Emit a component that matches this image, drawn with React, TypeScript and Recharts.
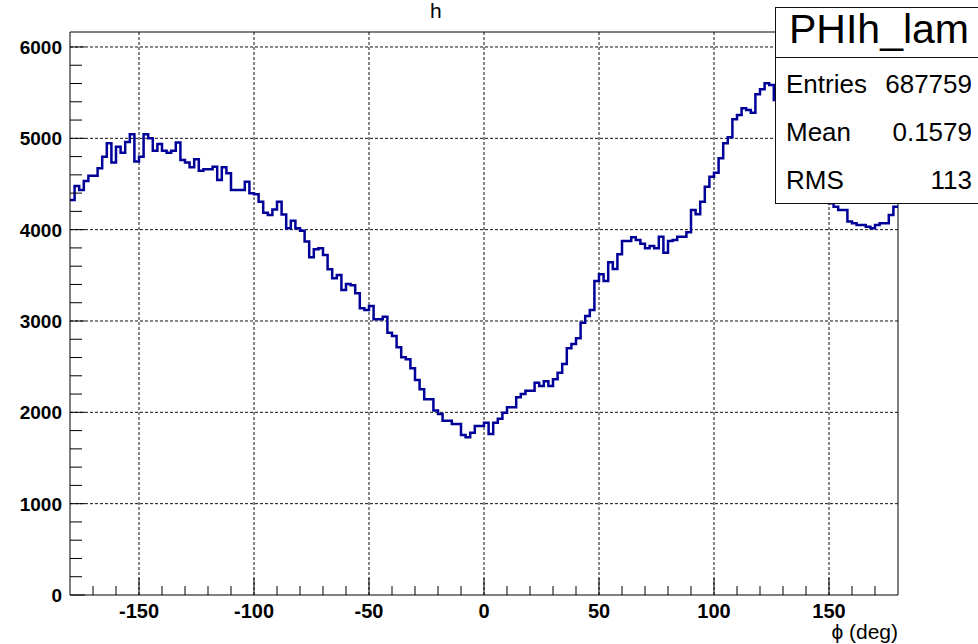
import { LineChart, Line, XAxis, YAxis, ReferenceLine } from "recharts"

// PHIh_lam: 180 bins of 2 deg from -180 to 180
const PHI_MIN = -180
const PHI_MAX = 180
const BIN_WIDTH = 2
const Y_TOP = 6164

const counts = [
  4325, 4478, 4434, 4533, 4591, 4591, 4672, 4799, 4946, 4734,
  4909, 4843, 4960, 5044, 4745, 4799, 5044, 5000, 4865, 4938,
  4865, 4843, 4865, 4953, 4763, 4734, 4683, 4770, 4646, 4661,
  4661, 4690, 4544, 4683, 4617, 4434, 4434, 4434, 4525, 4398,
  4387, 4306, 4186, 4160, 4222, 4306, 4167, 4014, 4098, 4014,
  3989, 3869, 3698, 3785, 3796, 3723, 3566, 3468, 3504, 3340,
  3405, 3390, 3303, 3139, 3121, 3165, 3018, 3018, 3047, 2872,
  2836, 2712, 2602, 2580, 2482, 2354, 2252, 2143, 2143, 2019,
  1982, 1909, 1909, 1872, 1872, 1752, 1726, 1777, 1850, 1850,
  1887, 1763, 1887, 1930, 1996, 2055, 2055, 2164, 2201, 2237,
  2237, 2325, 2288, 2339, 2288, 2361, 2434, 2529, 2701, 2748,
  2810, 2982, 3055, 3121, 3438, 3511, 3438, 3643, 3569, 3730,
  3876, 3876, 3916, 3887, 3845, 3796, 3821, 3796, 3923, 3748,
  3876, 3887, 3923, 3923, 3971, 4215, 4168, 4306, 4471, 4580,
  4624, 4781, 4946, 5011, 5208, 5256, 5329, 5310, 5281, 5482,
  5537, 5602, 5584, 5420, 5600, 5750, 5870, 5780, 5620, 5400,
  5150, 4900, 4700, 4520, 4380, 4290, 4250, 4215, 4215, 4088,
  4070, 4051, 4051, 4033, 4015, 4050, 4070, 4070, 4161, 4252,
]

const X_MAJOR = [-150, -100, -50, 0, 50, 100, 150]
const X_TICKS = [
  -170, -160, -150, -140, -130, -120, -110, -100, -90, -80, -70, -60, -50, -40, -30, -20, -10,
  0, 10, 20, 30, 40, 50, 60, 70, 80, 90, 100, 110, 120, 130, 140, 150, 160, 170,
]
const Y_MAJOR = [0, 1000, 2000, 3000, 4000, 5000, 6000]
const Y_TICKS = [
  0, 200, 400, 600, 800, 1000, 1200, 1400, 1600, 1800, 2000, 2200, 2400, 2600, 2800, 3000,
  3200, 3400, 3600, 3800, 4000, 4200, 4400, 4600, 4800, 5000, 5200, 5400, 5600, 5800, 6000,
]

const STATS_NAME = "PHIh_lam"
const STATS_ROWS = [
  ["Entries", "687759"],
  ["Mean", "0.1579"],
  ["RMS", "113"],
]

const FONT = "'Liberation Sans', Arial, Helvetica, sans-serif"
const LINE_COLOR = "#000099"

// step drawing needs one extra point at the upper edge
const data = counts.map((c, i) => ({ phi: PHI_MIN + i * BIN_WIDTH, count: c }))
data.push({ phi: PHI_MAX, count: counts[counts.length - 1] })

const XTick = ({ x, y, payload }: any) => {
  const major = X_MAJOR.includes(payload.value)
  return (
    <g>
      <line x1={x} y1={y} x2={x} y2={y - (major ? 17 : 9)} stroke="#000" strokeWidth={1} />
      {major && (
        <text x={x} y={y + 23} textAnchor="middle" fontSize={20} fontWeight="bold" fontFamily={FONT} fill="#000">
          {payload.value}
        </text>
      )}
    </g>
  )
}

const YTick = ({ x, y, payload }: any) => {
  const major = Y_MAJOR.includes(payload.value)
  return (
    <g>
      <line x1={x} y1={y} x2={x + (major ? 15 : 12)} y2={y} stroke="#000" strokeWidth={1} />
      {major && (
        <text x={x - 8} y={y + 7} textAnchor="end" fontSize={19} fontWeight="bold" fontFamily={FONT} fill="#000">
          {payload.value}
        </text>
      )}
    </g>
  )
}

export default function App() {
  return (
    <div
      style={{
        position: "absolute",
        left: 0,
        top: 0,
        width: 978,
        height: 644,
        overflow: "hidden",
        background: "#fff",
      }}
    >
      <LineChart width={978} height={644} data={data} margin={{ top: 32, right: 80, bottom: 0, left: 0 }}>
        <XAxis
          type="number"
          dataKey="phi"
          domain={[PHI_MIN, PHI_MAX]}
          ticks={X_TICKS}
          interval={0}
          height={49}
          tickSize={0}
          tickMargin={0}
          tickLine={false}
          axisLine={{ stroke: "#000" }}
          tick={<XTick />}
        />
        <YAxis
          type="number"
          domain={[0, Y_TOP]}
          ticks={Y_TICKS}
          interval={0}
          width={70}
          tickSize={0}
          tickMargin={0}
          tickLine={false}
          axisLine={{ stroke: "#000" }}
          tick={<YTick />}
        />
        {X_MAJOR.map((v) => (
          <ReferenceLine key={"vx" + v} x={v} stroke="#111" strokeDasharray="3 2" />
        ))}
        {Y_MAJOR.filter((v) => v > 0).map((v) => (
          <ReferenceLine key={"hy" + v} y={v} stroke="#111" strokeDasharray="3 2" />
        ))}
        <ReferenceLine y={Y_TOP} stroke="#000" />
        <ReferenceLine x={PHI_MAX} stroke="#000" />
        <Line
          type="stepAfter"
          dataKey="count"
          stroke={LINE_COLOR}
          strokeWidth={2.5}
          dot={false}
          activeDot={false}
          isAnimationActive={false}
        />
      </LineChart>

      <svg
        width={978}
        height={644}
        style={{ position: "absolute", left: 0, top: 0, pointerEvents: "none" }}
        fontFamily={FONT}
      >
        {/* title, its top is cut by the canvas edge in the original */}
        <text x={430} y={18} fontSize={21} fill="#000">h</text>

        <text x={898} y={639} textAnchor="end" fontSize={21} fill="#000">ϕ (deg)</text>

        {/* stats box */}
        <rect x={775.5} y={7.5} width={220} height={196} fill="#fff" stroke="#111" strokeWidth={1} />
        <line x1={775} y1={57.5} x2={978} y2={57.5} stroke="#111" strokeWidth={1} />
        <text x={879} y={43} textAnchor="middle" fontSize={41} fill="#000">{STATS_NAME}</text>
        {STATS_ROWS.map(([k, v], i) => (
          <g key={k}>
            <text x={786} y={93 + i * 48} fontSize={26} fill="#000">{k}</text>
            <text x={972} y={93 + i * 48} textAnchor="end" fontSize={26} fill="#000">{v}</text>
          </g>
        ))}
      </svg>
    </div>
  )
}
